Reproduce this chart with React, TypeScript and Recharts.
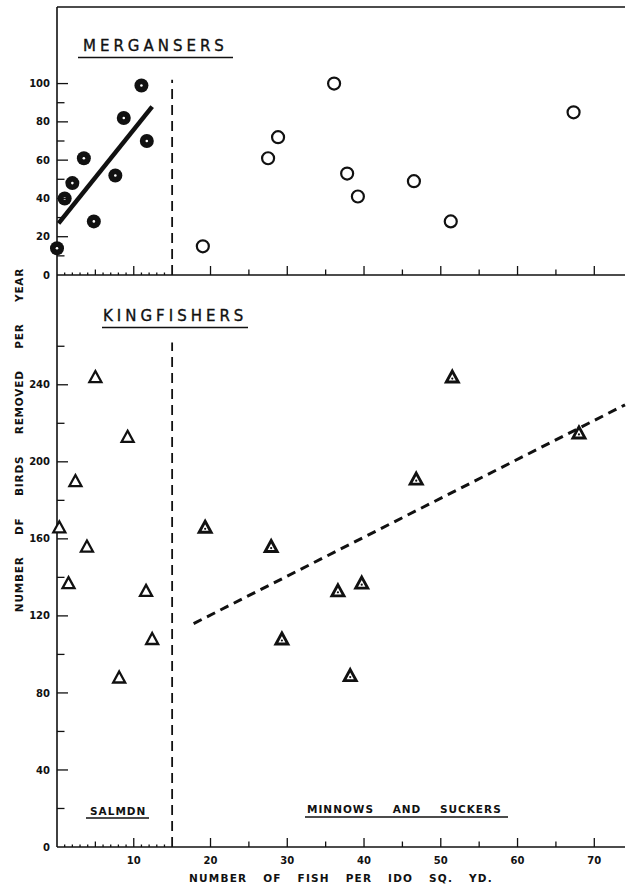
import React from 'react';
import { ScatterChart, Scatter, XAxis, YAxis, ReferenceLine } from 'recharts';

// ---------- data ----------
const mergansersSalmon = [
  { x: 0, y: 14 }, { x: 1, y: 40 }, { x: 2, y: 48 }, { x: 3.5, y: 61 },
  { x: 4.8, y: 28 }, { x: 7.6, y: 52 }, { x: 8.7, y: 82 }, { x: 11, y: 99 },
  { x: 11.7, y: 70 },
];
const mergansersMinnows = [
  { x: 19, y: 15 }, { x: 27.5, y: 61 }, { x: 28.8, y: 72 }, { x: 36.1, y: 100 },
  { x: 37.8, y: 53 }, { x: 39.2, y: 41 }, { x: 46.5, y: 49 }, { x: 51.3, y: 28 },
  { x: 67.3, y: 85 },
];
const kingfishersSalmon = [
  { x: 5, y: 244 }, { x: 9.2, y: 213 }, { x: 2.4, y: 190 }, { x: 0.3, y: 166 },
  { x: 3.9, y: 156 }, { x: 1.5, y: 137 }, { x: 11.6, y: 133 }, { x: 12.4, y: 108 },
  { x: 8.1, y: 88 },
];
const kingfishersMinnows = [
  { x: 19.3, y: 166 }, { x: 27.9, y: 156 }, { x: 29.3, y: 108 }, { x: 36.6, y: 133 },
  { x: 39.7, y: 137 }, { x: 38.2, y: 89 }, { x: 51.5, y: 244 }, { x: 46.8, y: 191 },
  { x: 68, y: 215 },
];
const mergansersFit = [{ x: 0.2, y: 27 }, { x: 12.4, y: 88 }];
const kingfishersFit = [{ x: 17.8, y: 116 }, { x: 74, y: 229.6 }];
const topDivider = [{ x: 15, y: 0 }, { x: 15, y: 102 }];
const bottomDivider = [{ x: 15, y: 0 }, { x: 15, y: 262 }];

const xDomain = [0, 74];
const xTicks = [1, 2, 3, 4, 5, 6, 7, 8, 9, 10, 11, 12, 13, 14, 20, 25, 30, 35, 40, 45, 50, 55, 60, 65, 70];
const xLabels = [10, 20, 30, 40, 50, 60, 70];
const topYDomain = [0, 140];
const topYTicks = [0, 10, 20, 30, 40, 50, 60, 70, 80, 90, 100];
const topYLabels = [0, 20, 40, 60, 80, 100];
const bottomYDomain = [0, 297];
const bottomYTicks = [0, 20, 40, 60, 80, 100, 120, 140, 160, 180, 200, 220, 240, 260];
const bottomYLabels = [0, 40, 80, 120, 160, 200, 240];

const INK = '#111';
const FONT = '"DejaVu Sans", sans-serif';

// ---------- ticks ----------
const XTick = (props: any) => {
  const { x, y, payload, showLabels } = props;
  const v = payload.value;
  let len = 2.5;
  if (v % 10 === 0) len = 9;
  else if (v % 5 === 0) len = 5.5;
  return (
    <g>
      <line x1={x} x2={x} y1={y} y2={y - len} stroke={INK} strokeWidth={1.3} />
      {showLabels && xLabels.includes(v) && (
        <text x={x} y={y + 17} textAnchor="middle" fontFamily={FONT} fontWeight="bold" fontSize={10} fill={INK}>
          {v}
        </text>
      )}
    </g>
  );
};

const YTick = (props: any) => {
  const { x, y, payload, labels } = props;
  const v = payload.value;
  const lab = labels.includes(v);
  const len = v === 0 ? 0 : lab ? 11 : 7.5;
  return (
    <g>
      {len > 0 && <line x1={x} x2={x + len} y1={y} y2={y} stroke={INK} strokeWidth={1.3} />}
      {lab && (
        <text x={x - 7} y={y + 3.6} textAnchor="end" fontFamily={FONT} fontWeight="bold" fontSize={10} fill={INK}>
          {v}
        </text>
      )}
    </g>
  );
};

// ---------- markers ----------
const FilledCircle = (p: any) => (
  <g>
    <circle cx={p.cx} cy={p.cy} r={7} fill={INK} />
    <circle cx={p.cx} cy={p.cy} r={1.3} fill="#fff" />
  </g>
);
const OpenCircle = (p: any) => (
  <circle cx={p.cx} cy={p.cy} r={6} fill="#fff" stroke={INK} strokeWidth={2.2} />
);
const triPoints = (cx: number, cy: number) =>
  `${cx},${cy - 6} ${cx + 6},${cy + 5} ${cx - 6},${cy + 5}`;
const OpenTriangle = (p: any) => (
  <polygon points={triPoints(p.cx, p.cy)} fill="#fff" stroke={INK} strokeWidth={2.3} strokeLinejoin="miter" />
);
const DotTriangle = (p: any) => (
  <g>
    <polygon points={triPoints(p.cx, p.cy)} fill="#fff" stroke={INK} strokeWidth={2.9} strokeLinejoin="miter" />
    <circle cx={p.cx} cy={p.cy + 1.5} r={1.1} fill={INK} />
  </g>
);

export default function App() {
  return (
    <div style={{ position: 'absolute', left: 0, top: 0, width: 626, height: 887, background: '#fff' }}>
      <div style={{ position: 'absolute', left: 0, top: 0 }}>
        <ScatterChart width={626} height={280} margin={{ top: 7, right: 1, bottom: 0, left: 0 }}>
          <XAxis
            dataKey="x" type="number" domain={xDomain} ticks={xTicks} interval={0}
            height={5} tickSize={0} tickMargin={0} tickLine={false}
            axisLine={{ stroke: INK, strokeWidth: 1.6 }}
            tick={(p: any) => <XTick {...p} showLabels={false} />}
          />
          <YAxis
            dataKey="y" type="number" domain={topYDomain} ticks={topYTicks} interval={0}
            width={57} tickSize={0} tickMargin={0} tickLine={false}
            axisLine={{ stroke: INK, strokeWidth: 1.6 }}
            tick={(p: any) => <YTick {...p} labels={topYLabels} />}
          />
          <ReferenceLine y={140} stroke={INK} strokeWidth={1.4} />
          <ReferenceLine segment={topDivider} stroke={INK} strokeWidth={1.8} strokeDasharray="10 6" />
          <ReferenceLine segment={mergansersFit} stroke={INK} strokeWidth={4.5} />
          <Scatter data={mergansersSalmon} shape={FilledCircle} isAnimationActive={false} />
          <Scatter data={mergansersMinnows} shape={OpenCircle} isAnimationActive={false} />
        </ScatterChart>
      </div>
      <div style={{ position: 'absolute', left: 0, top: 275 }}>
        <ScatterChart width={626} height={612} margin={{ top: 0, right: 1, bottom: 0, left: 0 }}>
          <XAxis
            dataKey="x" type="number" domain={xDomain} ticks={xTicks} interval={0}
            height={40} tickSize={0} tickMargin={0} tickLine={false}
            axisLine={{ stroke: INK, strokeWidth: 1.6 }}
            tick={(p: any) => <XTick {...p} showLabels={true} />}
          />
          <YAxis
            dataKey="y" type="number" domain={bottomYDomain} ticks={bottomYTicks} interval={0}
            width={57} tickSize={0} tickMargin={0} tickLine={false}
            axisLine={{ stroke: INK, strokeWidth: 1.6 }}
            tick={(p: any) => <YTick {...p} labels={bottomYLabels} />}
          />
          <ReferenceLine segment={bottomDivider} stroke={INK} strokeWidth={1.8} strokeDasharray="10 6" />
          <ReferenceLine segment={kingfishersFit} stroke={INK} strokeWidth={3} strokeDasharray="9 6" />
          <Scatter data={kingfishersSalmon} shape={OpenTriangle} isAnimationActive={false} />
          <Scatter data={kingfishersMinnows} shape={DotTriangle} isAnimationActive={false} />
        </ScatterChart>
      </div>
      <svg width={626} height={887} style={{ position: 'absolute', left: 0, top: 0, pointerEvents: 'none' }}>
        <g fill={INK} fontFamily={FONT}>
          <text x={83} y={51} fontSize={15} letterSpacing={4} stroke={INK} strokeWidth={0.35}>MERGANSERS</text>
          <line x1={78} x2={233} y1={57.5} y2={57.5} stroke={INK} strokeWidth={1.6} />
          <text x={103} y={321} fontSize={15} letterSpacing={4} stroke={INK} strokeWidth={0.35}>KINGFISHERS</text>
          <line x1={102} x2={248} y1={327.5} y2={327.5} stroke={INK} strokeWidth={1.6} />
          <text x={90} y={815} fontSize={10.5} fontWeight="bold" letterSpacing={1}>SALMDN</text>
          <line x1={86} x2={149} y1={818} y2={818} stroke={INK} strokeWidth={1.3} />
          <text x={307} y={813} fontSize={10.5} fontWeight="bold" letterSpacing={1} style={{ wordSpacing: '14px' }}>
            MINNOWS AND SUCKERS
          </text>
          <line x1={305} x2={508} y1={817} y2={817} stroke={INK} strokeWidth={1.3} />
          <text x={341} y={882} textAnchor="middle" fontSize={10.5} fontWeight="bold" letterSpacing={1.2} style={{ wordSpacing: '11px' }}>
            NUMBER OF FISH PER IDO SQ. YD.
          </text>
          <text transform="translate(23,440) rotate(-90)" textAnchor="middle" fontSize={10.5} fontWeight="bold" letterSpacing={0.8} style={{ wordSpacing: '17px' }}>
            NUMBER DF BIRDS REMOVED PER YEAR
          </text>
        </g>
      </svg>
    </div>
  );
}
